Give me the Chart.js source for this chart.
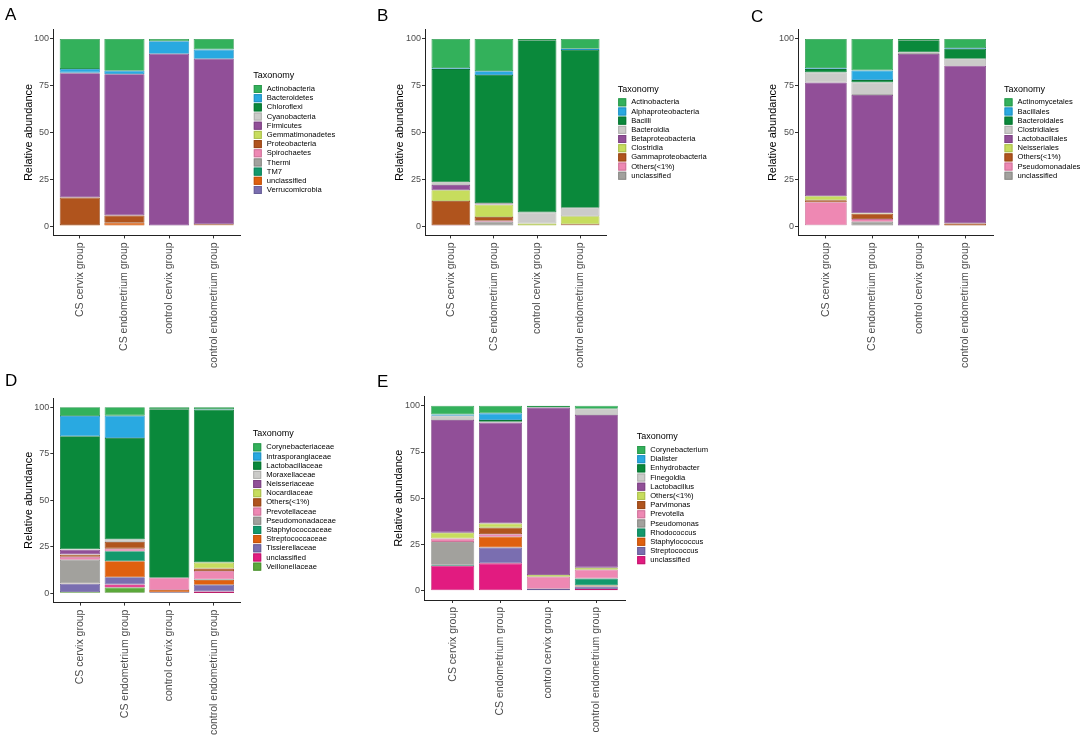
<!DOCTYPE html>
<html>
<head>
<meta charset="utf-8">
<script src="https://cdn.jsdelivr.net/npm/chart.js@4.4.1/dist/chart.umd.min.js"></script>
<style>
  html, body { margin: 0; padding: 0; background: #fff; }
  #wrap { position: relative; width: 1084px; height: 736px; overflow: hidden; }
  #wrap canvas { position: absolute; left: 0; top: 0; }
  .tag { position: absolute; font: 17px/17px "Liberation Sans", Arial, sans-serif; color: #000; }
</style>
</head>
<body>
<div id="wrap">
  <canvas id="chartA" width="1084" height="736"></canvas>
  <canvas id="chartB" width="1084" height="736"></canvas>
  <canvas id="chartC" width="1084" height="736"></canvas>
  <canvas id="chartD" width="1084" height="736"></canvas>
  <canvas id="chartE" width="1084" height="736"></canvas>
  <div class="tag" style="left:5px;top:6px">A</div>
  <div class="tag" style="left:377px;top:7px">B</div>
  <div class="tag" style="left:751px;top:8px">C</div>
  <div class="tag" style="left:5px;top:372px">D</div>
  <div class="tag" style="left:377px;top:373px">E</div>
</div>
<script>
// groups on the x axis, same for every panel
const GROUPS = ["CS cervix group", "CS endometrium group", "control cervix group", "control endometrium group"];
const Y_TICKS = [0, 25, 50, 75, 100];

// A - phylum (one row per taxon, values per group)
const PHYLUM_TAXA = ["Actinobacteria", "Bacteroidetes", "Chloroflexi", "Cyanobacteria", "Firmicutes",
  "Gemmatimonadetes", "Proteobacteria", "Spirochaetes", "Thermi", "TM7", "unclassified", "Verrucomicrobia"];
const PHYLUM_VALUES = [
  [16.0, 17.0, 1.2, 5.7],
  [2.0, 1.8, 6.7, 4.9],
  [0, 0, 0, 0],
  [0.3, 0, 0, 0],
  [66.5, 75.5, 92.1, 88.5],
  [0, 0, 0, 0],
  [14.7, 3.9, 0, 0.5],
  [0, 0, 0, 0],
  [0, 0, 0, 0],
  [0, 0, 0, 0],
  [0.5, 1.8, 0, 0.4],
  [0, 0, 0, 0]
];

// B - class
const CLASS_TAXA = ["Actinobacteria", "Alphaproteobacteria", "Bacilli", "Bacteroidia", "Betaproteobacteria",
  "Clostridia", "Gammaproteobacteria", "Others(<1%)", "unclassified"];
const CLASS_VALUES = [
  [15.6, 17.2, 0.7, 5.2],
  [0.5, 2.1, 0, 0.7],
  [60.5, 68.4, 92.0, 84.3],
  [1.5, 0.6, 6.0, 4.6],
  [2.8, 0.3, 0, 0],
  [5.7, 6.6, 1.0, 4.3],
  [13.0, 2.0, 0, 0.5],
  [0.2, 0.5, 0.3, 0],
  [0.2, 2.3, 0, 0.4]
];

// C - order
const ORDER_TAXA = ["Actinomycetales", "Bacillales", "Bacteroidales", "Clostridiales", "Lactobacillales",
  "Neisseriales", "Others(<1%)", "Pseudomonadales", "unclassified"];
const ORDER_VALUES = [
  [15.6, 16.8, 0.7, 4.8],
  [0.5, 5.2, 0, 0.5],
  [1.8, 1.3, 6.4, 5.3],
  [5.4, 6.6, 0.9, 3.7],
  [60.8, 63.3, 92.0, 84.3],
  [2.1, 0.2, 0, 0],
  [1.1, 2.9, 0, 1.4],
  [12.3, 1.4, 0, 0],
  [0.4, 2.3, 0, 0]
];

// D - family
const FAMILY_TAXA = ["Corynebacteriaceae", "Intrasporangiaceae", "Lactobacillaceae", "Moraxellaceae",
  "Neisseriaceae", "Nocardiaceae", "Others(<1%)", "Prevotellaceae", "Pseudomonadaceae", "Staphylococcaceae",
  "Streptococcaceae", "Tissierellaceae", "unclassified", "Veillonellaceae"];
const FAMILY_VALUES = [
  [4.7, 4.5, 1.0, 0.9],
  [10.9, 12.0, 0, 0.3],
  [60.7, 54.6, 90.6, 82.3],
  [0.3, 1.3, 0, 0],
  [2.5, 0, 0, 0],
  [0.2, 0, 0, 3.2],
  [1.1, 3.6, 0, 1.3],
  [1.6, 1.4, 6.6, 4.6],
  [12.7, 0, 0, 0],
  [0, 5.4, 0, 0.2],
  [0.1, 8.6, 1.3, 2.6],
  [4.5, 3.9, 0.3, 3.6],
  [0, 1.6, 0, 0.8],
  [0.7, 3.1, 0.2, 0.2]
];

// E - genus
const GENUS_TAXA = ["Corynebacterium", "Dialister", "Enhydrobacter", "Finegoldia", "Lactobacillus",
  "Others(<1%)", "Parvimonas", "Prevotella", "Pseudomonas", "Rhodococcus", "Staphylococcus",
  "Streptococcus", "unclassified"];
const GENUS_VALUES = [
  [4.7, 4.1, 0.9, 1.6],
  [0.7, 3.6, 0, 0],
  [0, 0.9, 0, 0],
  [2.3, 0.5, 0, 3.4],
  [60.9, 54.5, 90.6, 82.5],
  [3.2, 2.3, 0.9, 1.1],
  [0, 3.5, 0, 0],
  [1.8, 1.4, 6.5, 4.8],
  [12.4, 0, 0, 0],
  [0.5, 0, 0, 3.8],
  [0, 5.8, 0, 0.5],
  [0, 8.6, 1.1, 1.4],
  [13.5, 14.8, 0, 0.9]
];

const PALETTE = ["#33b15b", "#29a9e1", "#0a893b", "#cbcbc9", "#914f98", "#c7dd5d", "#b0541d",
  "#ee88b3", "#a2a19d", "#13996c", "#df600f", "#7a6eb0", "#e21b80", "#5ba83a"];

const FONT = '"Liberation Sans", Arial, Helvetica, sans-serif';

function darker(hex) {
  const n = parseInt(hex.slice(1), 16);
  const f = c => Math.round(c * 0.86);
  return "rgb(" + f(n >> 16) + "," + f((n >> 8) & 255) + "," + f(n & 255) + ")";
}

// legend to the right of each panel, ggplot style
const sideLegend = {
  id: "sideLegend",
  afterDraw(chart, args, o) {
    const ctx = chart.ctx;
    ctx.save();
    ctx.textAlign = "left";
    ctx.textBaseline = "middle";
    ctx.fillStyle = "#000";
    ctx.font = "9px " + FONT;
    ctx.fillText(o.title, o.x, o.y);
    const items = chart.data.datasets.slice().reverse();
    items.forEach((ds, i) => {
      const cy = o.y0 + i * o.step;
      ctx.fillStyle = ds.backgroundColor;
      ctx.fillRect(o.x + 0.5, cy - 4, 8, 8);
      ctx.strokeStyle = ds.borderColor;
      ctx.lineWidth = 1;
      ctx.strokeRect(o.x + 1, cy - 3.5, 7, 7);
      ctx.fillStyle = "#000";
      ctx.font = "7.6px " + FONT;
      ctx.fillText(ds.label, o.x + 13.5, cy);
    });
    ctx.restore();
  }
};

function makePanel(id, taxa, values, box, legend) {
  const datasets = taxa.map((name, i) => ({
    label: name,
    data: values[i].map((v, j) => ({ x: j, y: v })),
    backgroundColor: PALETTE[i],
    borderColor: darker(PALETTE[i]),
    borderWidth: 0.8,
    borderSkipped: false,
    categoryPercentage: 1,
    barPercentage: 0.9
  })).reverse(); // first taxon sits on top of the stack

  const xHeight = 145;
  return new Chart(document.getElementById(id), {
    type: "bar",
    data: { datasets },
    options: {
      responsive: false,
      animation: false,
      layout: {
        padding: {
          left: box.left - box.yw,
          right: 1084 - box.right,
          top: box.top,
          bottom: 736 - box.bottom - xHeight
        }
      },
      plugins: {
        legend: { display: false },
        tooltip: { enabled: false },
        sideLegend: Object.assign({ title: "Taxonomy", step: 9.18 }, legend)
      },
      scales: {
        x: {
          type: "linear",
          stacked: true,
          min: -0.6,
          max: 3.6,
          offset: false,
          afterBuildTicks: s => { s.ticks = GROUPS.map((g, i) => ({ value: i })); },
          afterFit: s => { s.height = xHeight; },
          grid: { offset: false, drawOnChartArea: false, drawTicks: true, tickLength: 3, color: "#333", lineWidth: 1 },
          border: { display: true, color: "#222", width: 1 },
          ticks: {
            autoSkip: false,
            minRotation: 90,
            maxRotation: 90,
            padding: 4,
            color: "#4d4d4d",
            font: { family: FONT, size: 10.5 },
            callback: v => GROUPS[v]
          }
        },
        y: {
          stacked: true,
          min: -5,
          max: 105,
          afterBuildTicks: s => { s.ticks = Y_TICKS.map(v => ({ value: v })); },
          afterFit: s => { s.width = box.yw; },
          grid: { drawOnChartArea: false, drawTicks: true, tickLength: 3, color: "#333", lineWidth: 1 },
          border: { display: true, color: "#222", width: 1 },
          title: {
            display: true,
            text: "Relative abundance",
            color: "#000",
            font: { family: FONT, size: 11 },
            padding: { top: 4, bottom: 0 }
          },
          ticks: {
            padding: 1,
            color: "#4d4d4d",
            font: { family: FONT, size: 9 },
            callback: v => String(v)
          }
        }
      }
    },
    plugins: [sideLegend]
  });
}

makePanel("chartA", PHYLUM_TAXA, PHYLUM_VALUES,
  { left: 53, right: 240.5, top: 29.6, bottom: 235.4, yw: 35 },
  { x: 253.3, y: 76, y0: 89 });
makePanel("chartB", CLASS_TAXA, CLASS_VALUES,
  { left: 425, right: 606, top: 29.6, bottom: 235.4, yw: 36 },
  { x: 617.7, y: 89.3, y0: 102.3 });
makePanel("chartC", ORDER_TAXA, ORDER_VALUES,
  { left: 798, right: 993, top: 29.6, bottom: 235.4, yw: 36 },
  { x: 1004, y: 89.3, y0: 102.3 });
makePanel("chartD", FAMILY_TAXA, FAMILY_VALUES,
  { left: 53.3, right: 240.7, top: 398, bottom: 602.6, yw: 35 },
  { x: 252.7, y: 434, y0: 447.3 });
makePanel("chartE", GENUS_TAXA, GENUS_VALUES,
  { left: 424, right: 625, top: 396.5, bottom: 600, yw: 36 },
  { x: 636.7, y: 436.7, y0: 450 });
</script>
</body>
</html>
